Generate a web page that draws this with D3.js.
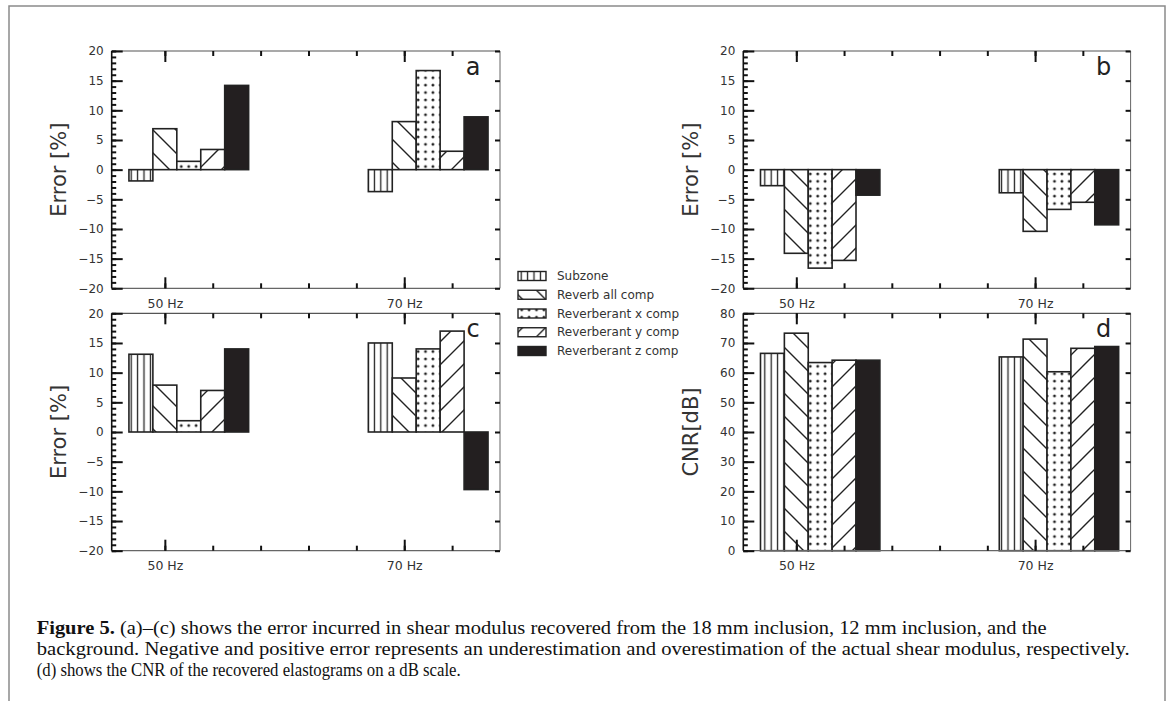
<!DOCTYPE html>
<html>
<head>
<meta charset="utf-8">
<script src="https://cdn.jsdelivr.net/npm/d3@7"></script>
<style>
  html, body { margin: 0; padding: 0; background: #fff; }
  svg { display: block; }
  .tick text { font-family: "DejaVu Sans", sans-serif; font-size: 12px; fill: #333; }
</style>
</head>
<body>
<svg id="fig" width="1168" height="701"></svg>
<script>
// ---- data ----
const categories = ["50 Hz", "70 Hz"];
const seriesNames = ["Subzone", "Reverb all comp", "Reverberant x comp", "Reverberant y comp", "Reverberant z comp"];
// rows: one per frequency, columns follow seriesNames
const errorA = [[-1.9, 6.9, 1.4, 3.4, 14.2], [-3.7, 8.1, 16.7, 3.1, 8.9]];
const errorB = [[-2.7, -14.1, -16.6, -15.3, -4.3], [-3.9, -10.4, -6.7, -5.5, -9.3]];
const errorC = [[13.1, 7.9, 1.9, 7.0, 14.0], [15.0, 9.1, 14.0, 17.0, -9.7]];
const cnrD = [[66.5, 73.3, 63.4, 64.2, 64.2], [65.3, 71.3, 60.3, 68.2, 68.8]];
const errorTicks = [-20, -15, -10, -5, 0, 5, 10, 15, 20];
const cnrTicks = [0, 10, 20, 30, 40, 50, 60, 70, 80];
const captionLines = [
  "(a)–(c) shows the error incurred in shear modulus recovered from the 18 mm inclusion, 12 mm inclusion, and the",
  "background. Negative and positive error represents an underestimation and overestimation of the actual shear modulus, respectively.",
  "(d) shows the CNR of the recovered elastograms on a dB scale."
];

const svg = d3.select("#fig");
const defs = svg.append("defs");
const ink = "#222";

// hatch patterns
function hatch(id, w, h, draw) {
  const p = defs.append("pattern").attr("id", id).attr("patternUnits", "userSpaceOnUse")
    .attr("width", w).attr("height", h);
  p.append("rect").attr("width", w).attr("height", h).attr("fill", "#fff");
  draw(p);
}
hatch("pVert", 6.4, 10, p => p.append("line").attr("x1", 3.2).attr("x2", 3.2).attr("y1", 0).attr("y2", 10)
  .attr("stroke", ink).attr("stroke-width", 1.3));
const S = 23;
hatch("pBack", S, S, p => p.append("path")
  .attr("d", `M-2,-2L${S + 2},${S + 2}M-2,${S - 2}L2,${S + 2}M${S - 2},-2L${S + 2},2`)
  .attr("stroke", ink).attr("stroke-width", 1.4).attr("fill", "none"));
hatch("pFwd", S, S, p => p.append("path")
  .attr("d", `M-2,${S + 2}L${S + 2},-2M-2,2L2,-2M${S - 2},${S + 2}L${S + 2},${S - 2}`)
  .attr("stroke", ink).attr("stroke-width", 1.4).attr("fill", "none"));
hatch("pDots", 7.4, 7.4, p => p.append("circle").attr("cx", 3.7).attr("cy", 3.7).attr("r", 1.45).attr("fill", ink));
const fills = ["url(#pVert)", "url(#pBack)", "url(#pDots)", "url(#pFwd)", "#231f20"];

// frame around the figure
svg.append("rect").attr("x", 9).attr("y", 6).attr("width", 1156).attr("height", 710)
  .attr("fill", "none").attr("stroke", "#8a8a8a").attr("stroke-width", 1.5);

function panel(cfg) {
  const x = d3.scaleLinear().domain([-2.22, 14]).range([cfg.left, cfg.right]);
  const y = d3.scaleLinear().domain(cfg.domain).range([cfg.bottom, cfg.top]);
  const g = svg.append("g");

  // bars
  cfg.values.forEach((row, i) => {
    row.forEach((v, j) => {
      const x0 = x(i * 10 - 1.5 + j), x1 = x(i * 10 - 0.5 + j);
      const y0 = y(Math.max(0, v)), y1 = y(Math.min(0, v));
      g.append("rect").attr("x", x0).attr("y", y0).attr("width", x1 - x0).attr("height", y1 - y0)
        .attr("fill", fills[j]).attr("stroke", ink).attr("stroke-width", 1.6);
    });
  });

  // spines
  g.append("line").attr("x1", cfg.left).attr("x2", cfg.right).attr("y1", cfg.top).attr("y2", cfg.top)
    .attr("stroke", "#555").attr("stroke-width", 1.2);
  g.append("line").attr("x1", cfg.left).attr("x2", cfg.right).attr("y1", cfg.bottom).attr("y2", cfg.bottom)
    .attr("stroke", "#666").attr("stroke-width", 1.2);
  g.append("line").attr("x1", cfg.left).attr("x2", cfg.left).attr("y1", cfg.top).attr("y2", cfg.bottom)
    .attr("stroke", "#111").attr("stroke-width", 1.6);
  g.append("line").attr("x1", cfg.right).attr("x2", cfg.right).attr("y1", cfg.top).attr("y2", cfg.bottom)
    .attr("stroke", "#666").attr("stroke-width", 1);

  const style = sel => { sel.select(".domain").remove(); sel.selectAll(".tick line").attr("stroke", "#111").attr("stroke-width", 2); };

  // y axis: left major + minor, right major
  g.append("g").attr("transform", `translate(${cfg.left},0)`)
    .call(d3.axisLeft(y).tickValues(cfg.ticks).tickSize(-11).tickPadding(8)).call(style);
  g.append("g").attr("transform", `translate(${cfg.left},0)`)
    .call(d3.axisLeft(y).tickValues(d3.range(cfg.domain[0], cfg.domain[1] + 0.001, cfg.minor)).tickSize(-4.5).tickFormat("")).call(style);
  g.append("g").attr("transform", `translate(${cfg.right},0)`)
    .call(d3.axisRight(y).tickValues(cfg.ticks).tickSize(-5).tickFormat("")).call(style);

  // x axis: bottom with labels, top without
  const xMinor = d3.range(0, 14, 2);
  const xMajor = [0, 10];
  g.append("g").attr("transform", `translate(0,${cfg.bottom})`)
    .call(d3.axisBottom(x).tickValues(xMinor).tickSize(-5).tickFormat("")).call(style);
  g.append("g").attr("transform", `translate(0,${cfg.bottom})`)
    .call(d3.axisBottom(x).tickValues(xMajor).tickSize(-11).tickPadding(6).tickFormat((d, i) => categories[i])).call(style)
    .selectAll(".tick text").style("font-size", "12.5px").attr("y", 10.5);
  g.append("g").attr("transform", `translate(0,${cfg.top})`)
    .call(d3.axisTop(x).tickValues(xMinor).tickSize(-5).tickFormat("")).call(style);
  g.append("g").attr("transform", `translate(0,${cfg.top})`)
    .call(d3.axisTop(x).tickValues(xMajor).tickSize(-11).tickFormat("")).call(style);

  // y label
  const cy = (cfg.top + cfg.bottom) / 2;
  g.append("text").attr("transform", `translate(${cfg.left - 53},${cy}) rotate(-90)`)
    .attr("text-anchor", "middle").attr("dy", "0.35em")
    .style("font-family", "DejaVu Sans, sans-serif").style("font-size", "21px").attr("fill", "#333")
    .text(cfg.ylabel);

  // panel letter
  g.append("text").attr("x", cfg.right - 27).attr("y", cfg.top + 24)
    .attr("text-anchor", "middle")
    .style("font-family", "DejaVu Sans, sans-serif").style("font-size", "24px").attr("fill", "#222")
    .text(cfg.letter);
}

const colL = { left: 111.7, right: 500 };
const colR = { left: 743.3, right: 1130.6 };
const rowT = { top: 51, bottom: 288.3 };
const rowB = { top: 313.3, bottom: 550.7 };

panel({ ...colL, ...rowT, values: errorA, domain: [-20, 20], ticks: errorTicks, minor: 1, ylabel: "Error [%]", letter: "a" });
panel({ ...colR, ...rowT, values: errorB, domain: [-20, 20], ticks: errorTicks, minor: 1, ylabel: "Error [%]", letter: "b" });
panel({ ...colL, ...rowB, values: errorC, domain: [-20, 20], ticks: errorTicks, minor: 1, ylabel: "Error [%]", letter: "c" });
panel({ ...colR, ...rowB, values: cnrD, domain: [0, 80], ticks: cnrTicks, minor: 2, ylabel: "CNR[dB]", letter: "d" });

// legend
const leg = svg.append("g").attr("transform", "translate(518,276)");
seriesNames.forEach((name, j) => {
  const r = leg.append("g").attr("transform", `translate(0,${j * 18.75})`);
  r.append("rect").attr("x", 0).attr("y", -4.5).attr("width", 28).attr("height", 9)
    .attr("fill", fills[j]).attr("stroke", ink).attr("stroke-width", 1.4);
  r.append("text").attr("x", 39).attr("dy", "0.35em")
    .style("font-family", "DejaVu Sans, sans-serif").style("font-size", "12px").attr("fill", "#333")
    .text(name);
});

// caption
const cap = svg.append("g").style("font-family", "Liberation Serif, serif").style("font-size", "18px").attr("fill", "#111");
const capBase = [634, 655, 675.5];
const capWidths = [1010, 1093, 424];
captionLines.forEach((line, i) => {
  const t = cap.append("text").attr("x", 36.7).attr("y", capBase[i])
    .attr("textLength", capWidths[i]).attr("lengthAdjust", "spacingAndGlyphs");
  if (i === 0) {
    t.append("tspan").style("font-weight", "bold").text("Figure 5. ");
  }
  t.append("tspan").text(line);
});
</script>
</body>
</html>
